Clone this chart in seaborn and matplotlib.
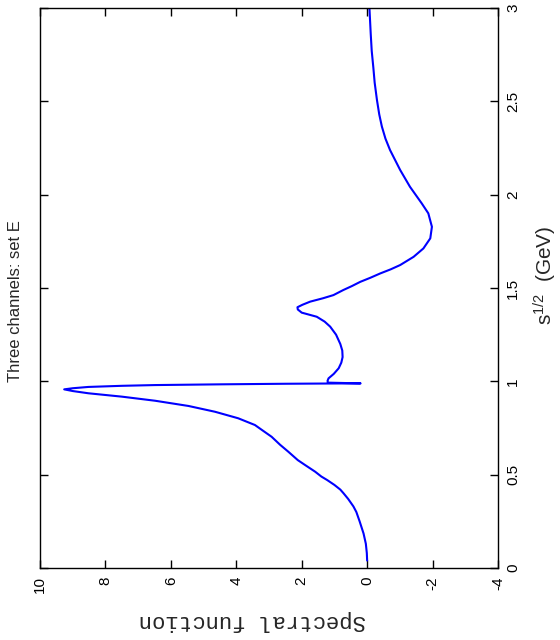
import numpy as np
import pandas as pd
import matplotlib
matplotlib.use("Agg")
import matplotlib.pyplot as plt
import seaborn as sns

# sqrt(s) in GeV and the spectral function
sqrt_s = [0.04, 0.08, 0.13, 0.185, 0.25, 0.30, 0.33, 0.37, 0.40, 0.42,
          0.445, 0.471, 0.49, 0.516, 0.552, 0.578, 0.623, 0.66, 0.703,
          0.735, 0.766, 0.802, 0.837, 0.868, 0.896, 0.918, 0.936, 0.948,
          0.957, 0.963, 0.970, 0.976, 0.980, 0.984, 0.987, 0.9885, 0.989,
          0.993, 1.003, 1.016, 1.04, 1.07, 1.10, 1.13, 1.165, 1.2, 1.25,
          1.293, 1.32, 1.346, 1.368, 1.385, 1.397, 1.41, 1.427, 1.445,
          1.462, 1.489, 1.51, 1.533, 1.555, 1.578, 1.60, 1.623, 1.667,
          1.712, 1.766, 1.828, 1.90, 1.953, 2.042, 2.132, 2.239, 2.30,
          2.365, 2.43, 2.507, 2.60, 2.68, 2.77, 2.86, 3.0]
spectral = [0.0, 0.01, 0.04, 0.11, 0.23, 0.33, 0.42, 0.58, 0.72, 0.82,
            1.0, 1.22, 1.4, 1.59, 1.90, 2.12, 2.41, 2.66, 2.92,
            3.18, 3.43, 3.94, 4.65, 5.46, 6.48, 7.50, 8.52, 9.0,
            9.26, 9.0, 8.52, 7.5, 6.48, 4.44, 2.5, 1.0, 0.2,
            1.2, 1.21, 1.18, 1.02, 0.87, 0.79, 0.75, 0.76, 0.82, 0.95,
            1.13, 1.3, 1.54, 2.0, 2.12, 2.13, 1.98, 1.74, 1.35,
            1.03, 0.73, 0.47, 0.21, -0.1, -0.40, -0.72, -1.01, -1.42,
            -1.72, -1.93, -1.98, -1.87, -1.67, -1.31, -1.01, -0.70, -0.56,
            -0.45, -0.37, -0.30, -0.23, -0.19, -0.14, -0.11, -0.07]

spec_ticks = [10, 8, 6, 4, 2, 0, -2, -4]
s_ticks = [0, 0.5, 1, 1.5, 2, 2.5, 3]

df = pd.DataFrame({"s": sqrt_s, "spec": spectral})

sns.set_style("ticks")
plt.rcParams["font.family"] = ["Liberation Sans", "DejaVu Sans"]

fig = plt.figure(figsize=(5.6, 6.4), dpi=100)
ax = fig.add_axes([40 / 560, 72 / 640, 458 / 560, 560 / 640])

sns.lineplot(data=df, x="spec", y="s", sort=False, estimator=None,
             color="#0000ff", linewidth=1.5, ax=ax)

ax.set_xlim(10, -4)
ax.set_ylim(0, 3)
ax.set_xticks(spec_ticks)
ax.set_xticklabels([f"{t:g}" for t in spec_ticks], rotation=90, fontsize=11)
ax.set_yticks(s_ticks)
ax.set_yticklabels([f"{t:g}" for t in s_ticks], rotation=90, fontsize=11,
                   va="center")
ax.yaxis.tick_right()
ax.tick_params(direction="in", length=6, width=1, top=True, bottom=True,
               left=True, right=True, labelleft=False, labeltop=False,
               labelright=True, labelbottom=True, pad=6, colors="black")
for sp in ax.spines.values():
    sp.set_visible(True)
    sp.set_linewidth(1)
    sp.set_color("black")
ax.set_xlabel("")
ax.set_ylabel("")

# rotated annotations as in the original landscape page
fig.text(252 / 560, 1 - 620 / 640, "Spectral function", rotation=180,
         ha="center", va="center", fontsize=16,
         family=["Liberation Mono", "DejaVu Sans Mono"])
fig.text(545 / 560, 1 - 275 / 640, r"$\mathregular{s^{1/2}}$  (GeV)",
         rotation=90, ha="center", va="center", fontsize=15)
fig.text(16 / 560, 1 - 301 / 640, "Three channels: set E", rotation=90,
         ha="center", va="center", fontsize=12)

fig.savefig("out.png", dpi=100)
